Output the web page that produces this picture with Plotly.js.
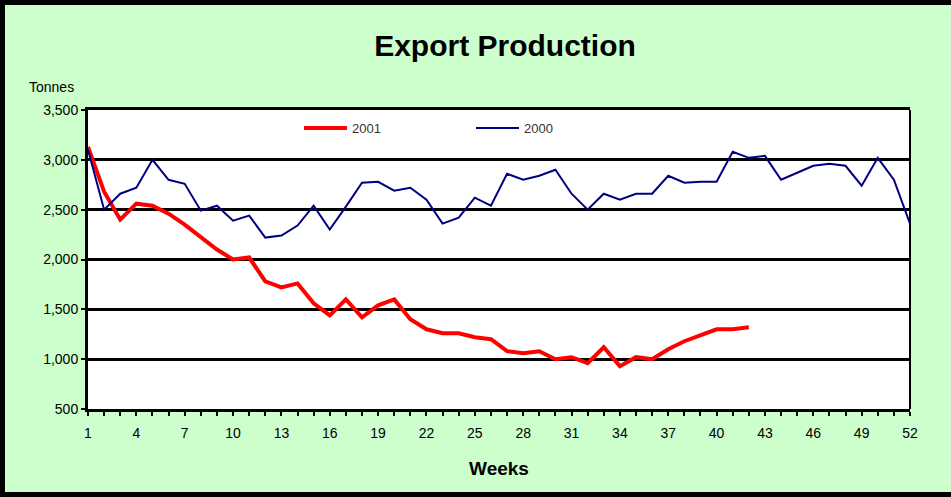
<!DOCTYPE html>
<html>
<head>
<meta charset="utf-8">
<script src="https://cdn.plot.ly/plotly-3.0.1.min.js"></script>
<style>
  html, body { margin: 0; padding: 0; background: #CCFFCC; }
  #chart { width: 951px; height: 497px; }
</style>
</head>
<body>
<div id="chart"></div>
<script>
// Week numbers
const weeks2000 = [1,2,3,4,5,6,7,8,9,10,11,12,13,14,15,16,17,18,19,20,21,22,23,24,25,26,
                   27,28,29,30,31,32,33,34,35,36,37,38,39,40,41,42,43,44,45,46,47,48,49,50,51,52];
const weeks2001 = [1,2,3,4,5,6,7,8,9,10,11,12,13,14,15,16,17,18,19,20,21,
                   22,23,24,25,26,27,28,29,30,31,32,33,34,35,36,37,38,39,40,41,42];

// Export production, tonnes
const tonnes2000 = [3100,2500,2660,2720,3000,2800,2760,2490,2540,2390,2440,2220,2240,2340,2540,2300,2530,
                    2770,2780,2690,2720,2600,2360,2420,2620,2540,2860,2800,2840,2900,2660,2500,2660,2600,
                    2660,2660,2840,2770,2780,2780,3080,3020,3040,2800,2870,2940,2960,2940,2740,3020,2800,2360];
const tonnes2001 = [3130,2680,2400,2560,2540,2460,2350,2220,2100,2000,2020,1780,1720,1760,1560,1440,1600,
                    1420,1540,1600,1400,1300,1260,1260,1220,1200,1080,1060,1080,1000,1020,960,1120,930,
                    1020,1000,1100,1180,1240,1300,1300,1320];

const seriesNames = ["2001", "2000"];
const xTickVals = [1,4,7,10,13,16,19,22,25,28,31,34,37,40,43,46,49,52];
const yTickVals = [500,1000,1500,2000,2500,3000,3500];

const FONT = "Liberation Sans, Arial, sans-serif";

const traces = [
  { x: weeks2001, y: tonnes2001, name: seriesNames[0], type: "scatter", mode: "lines",
    line: { color: "#FF0000", width: 4 } },
  { x: weeks2000, y: tonnes2000, name: seriesNames[1], type: "scatter", mode: "lines",
    line: { color: "#000080", width: 2 } }
];

// pixel helpers for decoration placement (plot area: x 88..910, y 110..409)
const PX0 = 88, PX1 = 910, PY0 = 110, PY1 = 409;
const px = v => (v - PX0) / (PX1 - PX0);
const py = v => (PY1 - v) / (PY1 - PY0);

const layout = {
  width: 951, height: 497, autosize: false,
  margin: { l: PX0, r: 951 - PX1, t: PY0, b: 497 - PY1, pad: 0 },
  paper_bgcolor: "#CCFFCC",
  plot_bgcolor: "#FFFFFF",
  font: { family: FONT, color: "#000000", size: 13 },
  title: {
    text: "<b>Export Production</b>",
    font: { family: FONT, size: 30, color: "#000000" },
    xref: "container", yref: "container",
    x: 505 / 951, xanchor: "center",
    y: 1 - 45 / 497, yanchor: "middle"
  },
  showlegend: true,
  legend: {
    orientation: "h",
    x: px(299), xanchor: "left",
    y: py(128), yanchor: "middle",
    bgcolor: "rgba(0,0,0,0)",
    borderwidth: 0,
    itemwidth: 43,
    font: { family: FONT, size: 13, color: "#333333" },
    entrywidth: 114, entrywidthmode: "pixels",
    traceorder: "normal"
  },
  xaxis: {
    range: [1, 52],
    tickmode: "array", tickvals: xTickVals, ticktext: xTickVals.map(String),
    ticks: "outside", ticklen: 4, tickwidth: 2, tickcolor: "#000",
    ticklabelstandoff: 5,
    minor: { dtick: 1, tick0: 1, ticks: "outside", ticklen: 4, tickwidth: 2, tickcolor: "#000", showgrid: false },
    showgrid: false, zeroline: false,
    showline: true, linecolor: "#000", linewidth: 3, mirror: true,
    tickfont: { family: FONT, size: 14, color: "#000" },
    title: { text: "<b>Weeks</b>", font: { family: FONT, size: 19, color: "#000" }, standoff: 22 },
    fixedrange: true
  },
  yaxis: {
    range: [500, 3500],
    tickmode: "array", tickvals: yTickVals, ticktext: yTickVals.map(v => v.toLocaleString("en-US")),
    ticks: "outside", ticklen: 4, tickwidth: 2, tickcolor: "#000",
    showgrid: true, gridcolor: "#000", gridwidth: 3,
    zeroline: false,
    showline: true, linecolor: "#000", linewidth: 3, mirror: false,
    tickfont: { family: FONT, size: 14, color: "#000" },
    fixedrange: true
  },
  annotations: [
    { text: "Tonnes", xref: "paper", yref: "paper", x: px(27), y: py(87),
      xanchor: "left", yanchor: "middle", showarrow: false,
      font: { family: FONT, size: 14, color: "#000" } }
  ],
  shapes: [
    // right border of plot area
    { type: "line", xref: "paper", yref: "paper", x0: 1, x1: 1, y0: 0, y1: 1,
      line: { color: "#000", width: 2 } },
    // outer chart frame (left, top, bottom)
    { type: "rect", xref: "paper", yref: "paper",
      x0: px(2.5), x1: px(960), y0: py(494.5), y1: py(2.5),
      line: { color: "#000", width: 5 }, fillcolor: "rgba(0,0,0,0)", layer: "above" }
  ]
};

Plotly.newPlot("chart", traces, layout, { displayModeBar: false, staticPlot: true });
</script>
</body>
</html>
